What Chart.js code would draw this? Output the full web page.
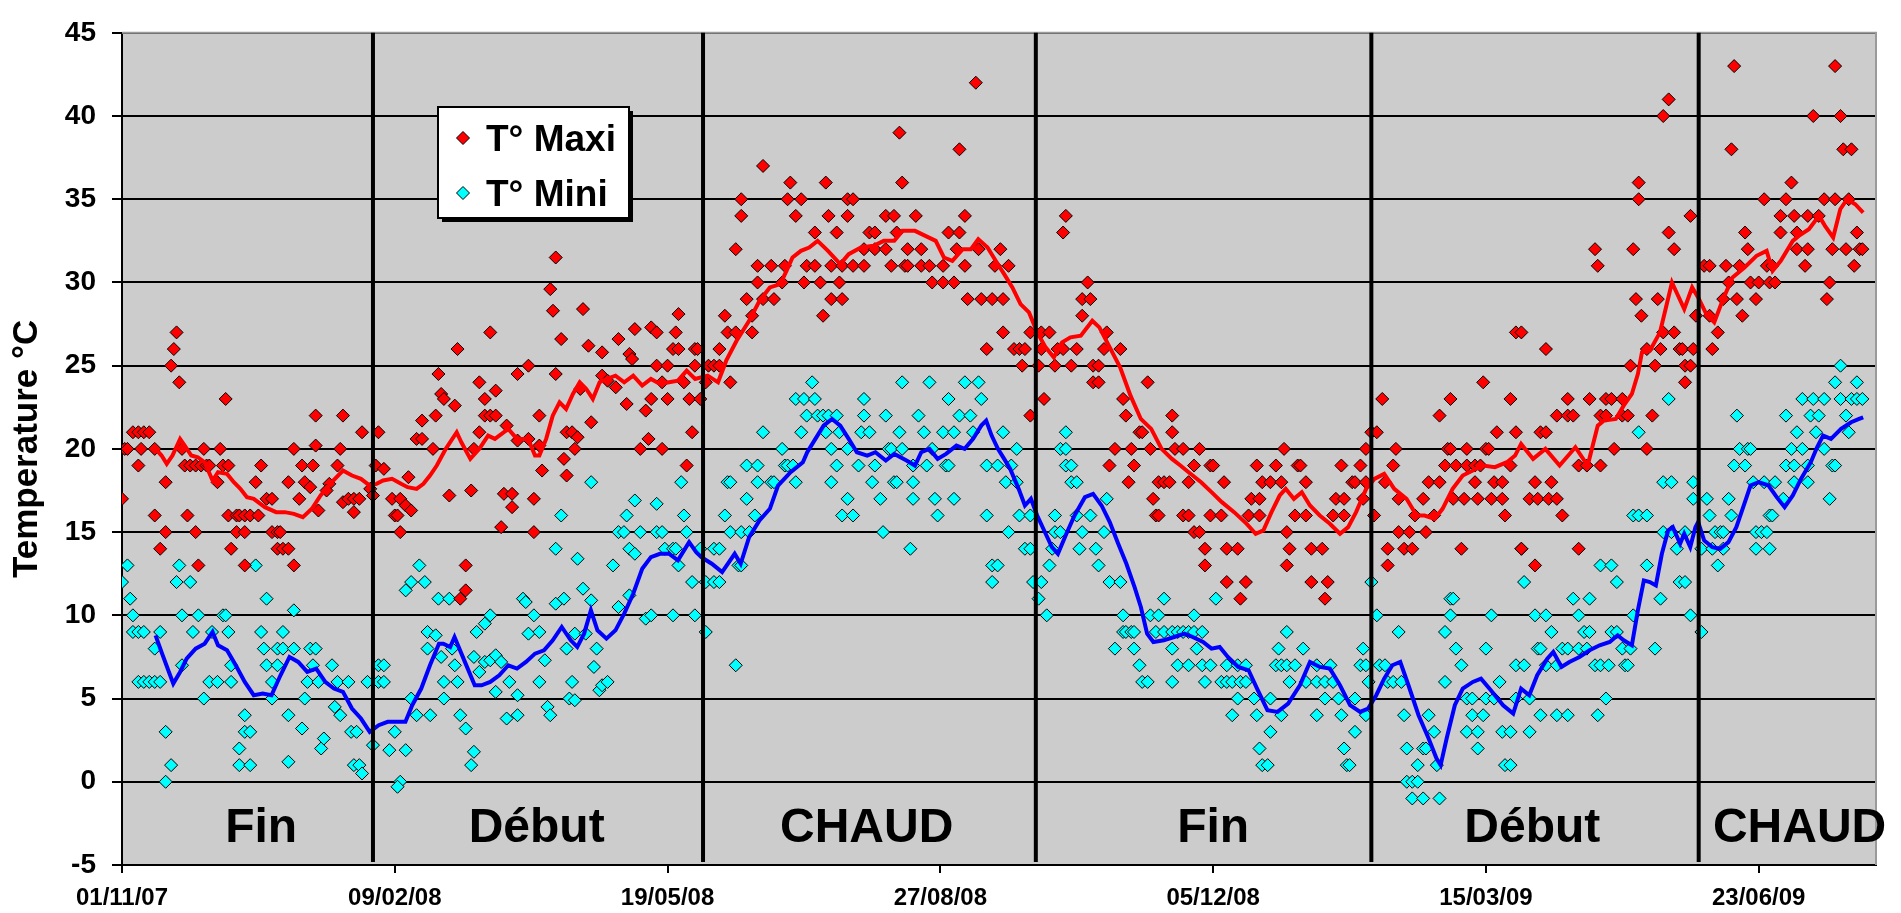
<!DOCTYPE html>
<html>
<head>
<meta charset="utf-8">
<script src="https://cdn.jsdelivr.net/npm/chart.js@4.4.0/dist/chart.umd.min.js"></script>
<style>
html, body { margin: 0; padding: 0; background: #fff; }
#wrap { width: 1901px; height: 913px; }
</style>
</head>
<body>
<div id="wrap"><canvas id="tempChart"></canvas></div>
<script>
// x values are days counted from 01/11/07
const tickLabels = ['01/11/07', '09/02/08', '19/05/08', '27/08/08', '05/12/08', '15/03/09', '23/06/09'];
const seasonBounds = [92, 213, 335, 458, 578];
const seasonNames = ['Fin', 'Début', 'CHAUD', 'Fin', 'Début', 'CHAUD'];
const seasonCentres = [51, 152, 273, 400, 517, 615];

// T° Maxi daily readings [day, °C]
const maxiPoints = [
  [0,17],[1,20],[2,20],[4,21],[6,21],[8,21],[10,21],[7,20],[12,20],[6,19],[12,16],[14,14],[16,15],[16,18],[18,25],[19,26],[20,27],[21,24],[22,20],[23,19],[25,19],[27,19],[29,19],[31,19],[32,19],[24,16],[27,15],[28,13],[30,20],[35,18],[36,20],[37,19],[39,19],[38,23],[39,16],[42,16],[43,16],[45,16],[47,16],[50,16],[40,14],[42,15],[45,15],[45,13],[49,18],[51,19],[53,17],[55,17],[55,15],[57,15],[58,15],[57,14],[59,14],[61,14],[61,18],[63,13],[63,20],[65,17],[66,19],[70,19],[67,18],[69,17.7],[71,22],[71,20.2],[72,16.3],[76,17.9],[75,17.5],[79,19],[80,20],[81,22],[81,16.8],[83,17],[85,17],[87,17],[85,16.2],[88,21],[91,17.6],[92,17.2],[93,19],[94,21],[96,18.8],[99,17],[100,16],[101,16],[102,17],[102,15],[104,16.6],[106,16.3],[105,18.3],
  [108,20.6],[110,20.6],[110,21.7],[114,20],[115,22],[116,24.5],[117,23.3],[118,23],[120,17.2],[122,22.6],[123,26],[124,11],[126,11.5],[126,13],[128,17.5],[129,20],[131,21],[131,24],[133,22],[135,22],[137,22],[133,23],[135,27],[137,23.5],[139,15.3],[140,17.3],[141,21.4],[143,17.3],[143,16.5],[145,24.5],[145,20.5],[149,20.6],[149,25],[151,17],[151,15],[153,22],[153,20.2],[154,18.7],[157,29.6],[158,28.3],[159,31.5],[159,24.5],[161,26.6],[162,19.4],[163,18.4],[163,21],[165,21],[167,20.7],[166,20],[169,28.4],[171,26.2],[172,21.6],[168,23.6],[176,25.8],[176,24.4],[178,24.1],[181,23.7],[182,26.6],[185,22.7],[186,25.7],[187,25.4],[188,27.2],[190,20],[192,22.3],[193,20.6],[194,27.3],[196,27],[196,25],[194,23],[198,20],[198,24],[200,25],[200,23],[203,27],[204,28.1],[202,26],[204,26],[206,24],[207,19],[208,23],[209,21],[210,26],[210,25],
  [211,26],[212,23],[214,24],[215,25],[217,25],[219,25],[219,26],[221,28],[222,27],[223,24],[225,27],[225,32],[227,34],[227,35],[229,29],[231,28],[231,27],[233,31],[233,30],[235,37],[235,29],[238,31],[239,29],[242,30],[243,31],[244,35],[245,36],[247,34],[249,35],[250,30],[251,31],[254,33],[254,31],[256,30],[257,28],[258,36],[259,34],[260,29],[260,31],[262,33],[263,30],[264,29],[264,31],[266,34],[266,35],[268,35],[268,31],[272,31],[272,32],[274,33],[276,32],[276,33],[280,32],[280,34],[282,31],[283,34],[284,33],[285,39],[286,36],[287,31],[288,31],[288,32],[291,34],[293,31],[293,32],[296,31],[297,30],[301,30],[301,31],[303,33],[305,30],[306,32],[307,33],[307,38],[309,31],[309,34],[310,29],[313,42],[314,32],[315,29],[317,26],[319,29],[320,31],[322,32],[323,27],[323,29],[325,31],[327,26],[329,26],[330,25],[331,26],[333,27],[333,22],[336,25],[337,27],[337,26],[338,23],[340,27],[342,25],[343,26],[345,33],[345,26],[346,34],[348,25],[350,26],[352,28],[352,29],[354,30],[355,29],[356,25],[356,24],[358,25],[358,24],[360,26],[361,27],[362,19],[364,20],[366,26],[367,23],[368,22],[369,18],[370,20],[371,19],[373,21],[374,21],[376,24],[377,20],[378,17],[379,16],[380,16],[380,18],[382,18],[384,18],[385,22],[385,21],[386,20],[389,20],[389,16],[391,16],[391,18],[393,15],[393,19],[395,20],[395,15],[397,13],[397,14],[399,16],[399,19],[400,19],[403,16],[404,18],[405,14],[405,12],[409,14],[410,11],[412,12],[413,16],[414,17],[416,19],[417,16],[417,17],[418,18],[421,18],
  [423,19],[425,18],[426,20],[427,15],[427,13],[428,14],[430,16],[431,19],[432,19],[434,18],[434,16],[436,14],[436,12],[440,14],[441,11],[442,12],[444,16],[445,17],[447,19],[448,17],[448,16],[451,18],[452,18],[454,19],[455,17],[456,18],[456,20],[458,21],[459,16],[460,21],[462,23],[463,18],[464,14],[464,13],[466,19],[467,20],[468,17],[468,15],[470,14],[472,15],[473,14],[474,16],[477,17],[478,15],[479,18],[481,16],[483,18],[483,22],[485,19],[486,20],[487,20],[487,23],[488,17],[489,19],[491,14],[492,17],[493,19],[493,20],[496,19],[496,18],[497,17],[498,19],[499,24],[500,20],[501,20],[502,17],[503,18],[504,21],[506,18],[506,17],[507,16],[509,19],[509,23],[511,21],[511,27],[513,27],[513,14],[516,17],[518,18],[518,13],[519,17],[520,21],[522,21],[522,26],[523,17],[524,18],[526,17],[526,22],[528,16],[530,23],[530,22],[532,22],[534,19],[534,14],[537,19],[538,23],[540,32],[541,31],[542,22],[542,19],[544,23],[544,22],[546,23],[547,20],[550,22],[550,23],[552,22],[553,25],[554,32],[555,29],[556,35],[556,36],[557,28],[559,26],[559,20],[561,22],[562,25],[563,29],[564,26],[565,27],[565,40],[567,41],[567,33],[569,32],[569,27],[571,26],[572,26],[573,25],[573,24],[575,25],[575,34],[576,26],[577,28],[580,31],[582,28],[582,31],[583,26],[585,27],[587,29],[588,31],[589,30],[590,38],[591,43],[592,29],[593,31],[594,28],[595,33],[596,32],[597,30],[599,29],[600,30],[602,35],[603,31],[604,30],[605,31],[606,30],[608,34],[608,33],[610,35],[612,36],[613,34],[614,33],[614,32],[617,31],[618,32],[618,34],[620,40],[622,34],[624,35],[625,29],[626,30],[627,32],[628,35],[628,43],[630,40],[631,38],[632,32],[633,35],[634,38],[635,31],[636,33],[637,32],[638,32]
];

// T° Mini daily readings [day, °C]
const miniPoints = [
  [0,12],[2,13],[3,11],[4,10],[4,9],[6,9],[8,9],[6,6],[8,6],[10,6],[12,6],[14,6],[12,8],[14,9],[16,3],[18,1],[16,0],[21,13],[20,12],[25,12],[22,10],[28,10],[22,7],[26,9],[30,5],[32,6],[35,6],[33,9],[39,9],[37,10],[38,10],[40,7],[40,6],[43,2],[43,1],[47,1],[45,4],[45,3],[47,3],[49,13],[51,9],[52,8],[53,7],[53,11],[55,5],[55,6],[57,7],[59,9],[57,8],[59,8],[63,8],[61,4],[61,1.2],[63,10.3],[66,3.2],[67,5],[68,6],[72,6],[70,7],[69,8],[71,8],[73,2],[74,2.6],[77,7],[79,6],[83,6],[78,4.5],[80,4],[84,3],[86,3],[85,1],[87,1],[88,0.5],[90,6],[92,2.2],[94,7],[96,7],[94,6],[96,6],[98,1.9],[100,3],[102,0],[101,-0.3],[104,1.9],[104,11.5],[106,12],[109,13],[111,12],[106,5],[108,4],[112,9],[115,8.8],[112,8],[113,4],[116,11],[120,11],[117,7.5],[118,6],[123,6],[118,5],[121,8],[122,7],[124,4],[126,3.2],[129,1.8],[128,1],[129,7.5],[131,6.6],[130,9],[133,9.5],[135,10],[133,7.2],[135,7.3],[137,7.6],[139,7.2],[137,5.4],[141,3.8],[142,6],[145,5.2],[145,4],[147,11],[148,10.8],[151,10],[149,8.9],[153,9],[153,6],[155,7.3],[156,4.5],[157,4],[159,14],[161,16],[159,10.7],[162,11],[163,8],[164,5],[166,4.9],[165,6],[167,13.4],[169,11.6],[172,18],[172,10.9],[166,8.9],[170,8.9],[174,8],[173,6.9],[175,5.5],[176,5.8],[178,6],[180,13],[182,10.5],[182,15],[184,15],[185,16],[186,14],[188,13.7],[186,11.2],[188,16.9],[190,15],[192,9.8],[194,10],[196,15],[198,15],[196,16.7],[199,14],[202,14],[203,14],[202,10],[204,13],[205,18],[206,16],[207,15],[209,12],[210,10],
  [212,14],[214,9],[214,12],[217,12],[219,12],[217,14],[219,14],[225,7],[226,13],[227,13],[221,16],[223,15],[227,15],[230,15],[222,18],[223,18],[229,17],[232,16],[229,19],[233,19],[233,18],[238,18],[239,18],[247,18],[243,19],[244,19],[246,19],[260,18],[275,18],[283,18],[284,18],[290,18],[262,19],[270,19],[276,19],[290,19],[295,19],[302,19],[303,19],[317,19],[321,19],[326,19],[266,17],[278,17],[290,17],[298,17],[305,17],[264,16],[268,16],[299,16],[317,16],[329,16],[333,16],[279,15],[325,15],[289,14],[331,14],[333,14],[319,13],[321,13],[319,12],[324,18],[328,18],
  [253,24],[286,24],[296,24],[309,24],[314,24],[247,23],[250,23],[254,23],[272,23],[303,23],[315,23],[251,22],[255,22],[257,22],[259,22],[262,22],[272,22],[280,22],[292,22],[307,22],[311,22],[235,21],[249,21],[258,21],[263,21],[271,21],[274,21],[285,21],[294,21],[301,21],[305,21],[312,21],[323,21],[346,21],[242,20],[260,20],[266,20],[281,20],[282,20],[286,20],[297,20],[328,20],[344,20],[346,20],
  [334,12],[337,12],[336,11],[339,10],[340,13],[342,15],[344,15],[342,16],[341,14],[346,19],[348,19],[348,18],[350,18],[352,15],[351,14],[357,14],[350,16],[355,16],[358,13],[360,15],[361,17],[362,12],[366,12],[367,10],[367,9],[368,9],[370,9],[371,9],[364,8],[371,8],[373,7],[374,6],[376,6],[377,10],[380,10],[382,11],[379,9],[382,9],[385,9],[387,9],[389,9],[391,9],[393,9],[396,9],[385,8],[385,6],[387,7],[391,7],[393,10],[394,8],[397,6],[396,7],[399,7],[401,11],[403,6],[405,6],[407,6],[410,6],[412,6],[405,7],[409,7],[412,7],[407,4],[409,5],[415,5],[416,4],[417,2],[418,1],[420,1],
  [458,12],[460,10],[468,9],[427,9],[424,8],[433,8],[455,8],[423,7],[425,7],[427,7],[430,7],[438,7],[443,7],[454,7],[456,7],[461,7],[463,7],[428,6],[434,6],[438,6],[441,6],[444,6],[457,6],[464,6],[466,6],[469,6],[421,5],[441,5],[446,5],[452,5],[425,4],[438,4],[447,4],[456,4],[421,3],[452,3],[448,2],[449,1],[450,1],[470,4],[479,4],[471,2],[477,2],[478,2],[475,1],[482,1],[471,0],[473,0],[475,0],[473,-1],[477,-1],[483,-1],[481,3],[485,6],[485,9],[487,11],[488,11],[487,10],[489,8],[491,7],[493,5],[495,5],[493,3],[497,3],[495,4],[499,4],[497,2],[500,8],[502,10],[500,5],[503,5],[505,6],[506,3],[509,3],[507,1],[509,1],[511,5],[516,5],[511,7],[514,7],[516,3],[513,14],[514,12],[518,10],[522,10],[519,8],[520,8],[520,4],[526,4],[530,4],[524,9],[522,7],[526,7],[528,8],[530,8],[534,8],[537,8],[532,11],[538,11],[534,10],[536,9],[538,9],[540,7],[542,7],[545,7],[541,4],[544,5],[542,13],[546,13],[548,12],[546,9],[548,9],[550,8],[553,8],[551,7],[552,7],[554,10],[554,16],[556,16],[559,16],[559,13],[562,8],[564,11],[565,15],[568,15],[570,14],[571,12],[573,12],[573,15],[565,18],[568,18],[575,10],[576,17],[576,18],[579,9],[579,14],[583,14],[587,14],[581,17],[582,16],[584,15],[586,15],[587,15],[585,13],[589,17],[590,16],[591,19],[595,19],[598,18],[602,18],[606,18],[599,15],[601,15],[603,15],[599,14],[604,14],[604,16],[605,16],[609,17],[610,19],[613,19],[618,19],[613,18],[618,18],[626,17],[627,19],[628,19],
  [630,25],[628,24],[636,24],[567,23],[616,23],[620,23],[624,23],[630,23],[634,23],[636,23],[638,23],[592,22],[610,22],[619,22],[622,22],[632,22],[556,21],[614,21],[621,21],[633,21],[593,20],[596,20],[597,20],[612,20],[616,20],[624,20]
];

// smoothed curves [day, °C]
const maxiAvg = [
  [12.3,20],[14.5,19.6],[16.4,19.1],[18.5,19.6],[21.3,20.6],[23,20.2],[25.4,19.6],[27.8,19.5],[30.3,19.2],[33.2,18.1],[35.2,18.6],[38.5,18.5],[41,18],[43.4,17.6],[45.8,17.1],[48.3,17],[52.4,16.5],[56.5,16.2],[59.7,16.2],[63,16.1],[66.3,15.9],[69.6,16.4],[72.8,17.2],[76.9,18],[81,18.7],[84.3,18.4],[87.6,18.2],[90.8,17.8],[93.3,17.9],[95.7,18.1],[99,18.2],[102.3,17.9],[104.7,17.7],[108,17.6],[110.5,17.9],[112.9,18.4],[115.4,19],[118.7,20],[122.7,21],[124.4,20.4],[127.7,19.4],[131,20],[134.2,20.8],[136.7,20.6],[141.6,21.2],[144.8,20.6],[148.9,20.6],[151.4,19.6],[153,19.6],[155.5,20.6],[157.9,22],[160.4,22.8],[162.8,22.4],[165.3,23.3],[167.8,24],[170.2,23.6],[172.6,23],[175.1,24],[177.6,24.2],[180.9,24.4],[184.1,24],[187.4,24.4],[190.7,23.8],[193.9,24.2],[197.2,23.9],[200.5,24],[203.8,24.1],[207,24.7],[210.1,24.2],[214.7,24.4],[218.5,24],[221.5,25.3],[225.3,26.5],[229.9,27.7],[233.7,28.9],[237.5,29.7],[241.3,29.9],[243.6,30.7],[245.8,31.5],[248.9,31.9],[251.9,32.1],[255,32.5],[258.8,31.9],[263.3,31.1],[266.4,31.7],[270.9,32.1],[275.5,32.2],[279.3,32.5],[283.1,32.5],[286.1,33.1],[290.7,33.1],[294.5,32.8],[298.3,32.5],[301.3,31.5],[304.4,31.3],[308.2,32],[311.2,32],[313.9,32.6],[317.3,32.1],[320.3,31.3],[323.4,30.5],[326.4,29.7],[329.4,28.7],[332.5,28.2],[335.5,27],[338.6,26.1],[341.6,25.5],[344.6,26.4],[347.7,26.7],[351.5,26.8],[355.7,27.7],[358.3,27.3],[362.1,26.1],[365.9,24.9],[369.7,23.2],[373.5,21.8],[377.3,21.2],[381.1,20],[384.9,19.4],[388,19],[391,18.6],[395.6,18],[399.4,17.4],[403.2,16.8],[407.7,16.2],[412.3,15.5],[415.6,14.9],[418.4,15.1],[421.4,16.2],[424.4,17.2],[426.6,17.6],[429.6,17],[432.5,17.4],[435.5,16.6],[439.1,16],[442.8,15.5],[446.5,14.9],[449.5,15.3],[452.4,16.2],[456.1,17.6],[459.1,18.2],[462.7,18.5],[466.4,17.6],[470.9,17],[474.6,16],[477.5,16],[481.2,15.8],[484.1,16.4],[487.8,17.6],[491.5,18.4],[495.2,18.7],[498.9,19],[503.3,18.9],[507.7,19.2],[510.7,19.6],[512.9,20.3],[517.3,19.4],[521.8,20],[527,19],[532.8,20.1],[537.3,19],[541,21.4],[543.2,21.7],[547.6,21.8],[550.5,22.6],[553.5,23.3],[555.7,24.5],[557.2,25.8],[560.1,25.9],[563.8,27],[566,28.5],[568.2,30],[572.7,28.4],[575.6,29.7],[577.8,29.1],[580.8,28.1],[583.7,27.6],[586.7,28.9],[590.4,30.3],[594.8,30.9],[599.2,31.6],[602.9,31.9],[605.1,30.7],[608.1,31.3],[612.5,32.5],[614.7,32.8],[618.4,33.2],[622.1,34],[624.3,33.4],[627.3,32.7],[629.9,34.4],[632.4,35],[635.4,34.7],[638.3,34.2]
];

const miniAvg = [
  [12.3,8.8],[14.7,7.7],[17.2,6.6],[18.8,5.9],[21.3,6.6],[23.7,7.4],[27,8],[30.3,8.3],[33.2,9],[35.2,8.2],[38.5,7.9],[41.7,7],[45,6],[48.3,5.2],[51.6,5.3],[54.8,5.2],[58.1,6.4],[61.4,7.5],[64.6,7.2],[67.9,6.6],[71.2,6.8],[74.5,6],[77.7,5.6],[81,5.4],[84.3,4.4],[87.6,3.8],[90.8,3],[94.1,3.4],[97.4,3.6],[100.7,3.6],[103.9,3.6],[106.4,4.6],[109.7,5.6],[112.9,7],[116.2,8.3],[117.8,8.3],[120.3,8.1],[121.9,8.7],[125.2,7.4],[129.3,5.8],[131.8,5.8],[135,6],[138.3,6.4],[141.6,7],[144.8,6.8],[148.1,7.2],[151.4,7.7],[154.7,7.9],[157.9,8.5],[161.2,9.3],[164.5,8.5],[166.9,8.1],[169.4,8.9],[171.9,10.3],[174.3,9.1],[177.6,8.6],[180.9,9.1],[184.1,10.1],[187.4,11.3],[190.7,12.8],[193.9,13.5],[197.2,13.7],[200.5,13.7],[203.8,13.3],[207.9,14.4],[210.5,13.8],[212.4,13.5],[216.2,13.1],[220,12.6],[224.6,13.7],[226.8,13.1],[229.9,14.7],[233.7,15.7],[237.5,16.4],[240.5,17.8],[245.1,18.6],[249.6,19.2],[251.2,19.8],[254.2,20.6],[257.2,21.4],[260.3,21.8],[263.3,21.4],[266.4,20.6],[269.4,19.8],[273.2,19.6],[276.2,19.8],[280,19.3],[283.1,19.7],[287.6,19.3],[290.7,19],[293,19.8],[296,20],[299,19.4],[302.1,19.7],[305.9,20.2],[308.9,20],[312,20.6],[315,21.4],[316.8,21.7],[318.8,20.8],[321.1,20],[323.4,19.4],[325.6,18.8],[328.7,17.6],[331,16.6],[333.2,17],[335.5,16],[338.6,14.9],[340.9,14.1],[343.1,13.7],[346.2,14.9],[349.2,16],[353,17.1],[356,17.3],[359.1,16.6],[362.1,15.6],[365.2,14.3],[368.2,13.1],[371.2,11.7],[373.5,10.5],[375.8,8.9],[378.1,8.4],[381.9,8.5],[385.7,8.7],[389.5,8.9],[392.5,8.7],[396.3,8.4],[399.4,8],[402.4,8.1],[405.4,7.5],[409.2,6.9],[413,6.7],[416.1,5.6],[419.9,4.3],[423.6,4.2],[427.5,4.7],[431.8,5.8],[435.5,7.2],[439.1,6.9],[442.8,6.8],[446.5,5.8],[450.2,4.6],[453.9,4.2],[456.8,4.4],[459.8,5.2],[462.7,6.2],[465.7,7],[468.6,7.2],[471.6,5.8],[475.3,4],[479,2.6],[481.9,1.4],[483.4,1],[485.6,2.6],[488.6,4.6],[491.5,5.6],[495.2,6],[498.2,6.2],[501.8,5.5],[506.3,4.6],[510,4.1],[512.9,5.6],[515.9,5.2],[518.8,6.4],[522.5,7.4],[524.7,7.8],[527.7,6.9],[530.6,7.2],[534.3,7.5],[538,7.9],[541.7,8.2],[545.4,8.4],[548.3,8.8],[550.5,8.5],[553.5,8.2],[555.7,10.3],[557.9,12.1],[560.1,12],[562.3,11.8],[564.5,13.7],[566.8,15.1],[568.5,15.3],[571.2,14.3],[572.7,14.9],[574.9,14.1],[576.8,15.3],[577.8,15.6],[580,14.5],[583,14.1],[585.9,14],[588.9,14.4],[591.8,15.3],[594.1,16.4],[597,17.8],[600,18],[603.6,17.8],[606.6,17.1],[609.5,16.5],[612.5,17.2],[615.5,18.2],[619.1,19.2],[621.4,20.1],[623.6,20.8],[626.5,20.6],[630.2,21.2],[633.9,21.6],[636.8,21.8],[638.3,21.9]
];

const FONT = '"Liberation Sans", Arial, sans-serif';
Chart.defaults.font.family = FONT;
Chart.defaults.color = '#000';

const toXY = arr => arr.map(p => ({ x: p[0], y: p[1] }));

// grey plot area + grey top/right frame
const plotArea = {
    id: 'plotArea',
    beforeDraw(chart) {
        const { ctx, chartArea: a } = chart;
        ctx.save();
        ctx.fillStyle = '#cccccc';
        ctx.fillRect(a.left, a.top, a.right - a.left, a.bottom - a.top);
        ctx.restore();
    },
    beforeDatasetsDraw(chart) {
        const { ctx, chartArea: a } = chart;
        ctx.save();
        ctx.strokeStyle = '#9a9a9a';
        ctx.lineWidth = 2;
        ctx.beginPath();
        ctx.moveTo(a.left, a.top);
        ctx.lineTo(a.right, a.top);
        ctx.lineTo(a.right, a.bottom);
        ctx.stroke();
        ctx.restore();
    }
};

// season separators and names
const seasons = {
    id: 'seasons',
    afterDatasetsDraw(chart) {
        const { ctx, chartArea: a, scales: { x, y } } = chart;
        ctx.save();
        ctx.strokeStyle = '#000';
        ctx.lineWidth = 4;
        seasonBounds.forEach(d => {
            const px = x.getPixelForValue(d);
            ctx.beginPath();
            ctx.moveTo(px, a.top);
            ctx.lineTo(px, a.bottom - 3);
            ctx.stroke();
        });
        ctx.fillStyle = '#000';
        ctx.font = 'bold 48px ' + FONT;
        ctx.textAlign = 'center';
        ctx.textBaseline = 'alphabetic';
        seasonNames.forEach((name, i) => {
            ctx.fillText(name, x.getPixelForValue(seasonCentres[i]), y.getPixelForValue(-3.6));
        });
        ctx.restore();
    }
};

// boxed legend inside the plot
const boxLegend = {
    id: 'boxLegend',
    afterDraw(chart) {
        const ctx = chart.ctx;
        const items = chart.data.datasets.filter(ds => ds.type === 'scatter');
        const bx = 438, by = 107, bw = 191, bh = 111;
        ctx.save();
        ctx.fillStyle = '#000';
        ctx.fillRect(bx + 4, by + 4, bw, bh);
        ctx.fillStyle = '#fff';
        ctx.fillRect(bx, by, bw, bh);
        ctx.strokeStyle = '#000';
        ctx.lineWidth = 2;
        ctx.strokeRect(bx, by, bw, bh);
        ctx.font = 'bold 37px ' + FONT;
        ctx.textBaseline = 'alphabetic';
        ctx.textAlign = 'left';
        items.forEach((ds, i) => {
            const cx = bx + 25, cy = by + 31 + i * 55, r = 6.5;
            ctx.beginPath();
            ctx.moveTo(cx, cy - r);
            ctx.lineTo(cx + r, cy);
            ctx.lineTo(cx, cy + r);
            ctx.lineTo(cx - r, cy);
            ctx.closePath();
            ctx.fillStyle = ds.backgroundColor;
            ctx.fill();
            ctx.lineWidth = 1;
            ctx.strokeStyle = '#000';
            ctx.stroke();
            ctx.fillStyle = '#000';
            ctx.fillText(ds.label, bx + 48, cy + 13);
        });
        ctx.restore();
    }
};

const ctx = document.getElementById('tempChart').getContext('2d');
new Chart(ctx, {
    type: 'scatter',
    data: {
        datasets: [{
            type: 'line',
            label: 'Maxi moyenne',
            data: toXY(maxiAvg),
            borderColor: '#ff0000',
            borderWidth: 4,
            pointRadius: 0,
            fill: false,
            tension: 0,
            order: 0
        }, {
            type: 'line',
            label: 'Mini moyenne',
            data: toXY(miniAvg),
            borderColor: '#0000ff',
            borderWidth: 4,
            pointRadius: 0,
            fill: false,
            tension: 0,
            order: 0
        }, {
            type: 'scatter',
            label: 'T° Maxi',
            data: toXY(maxiPoints),
            pointStyle: 'rectRot',
            pointRadius: 6.5,
            backgroundColor: '#ff0000',
            borderColor: '#000',
            borderWidth: 1,
            order: 1
        }, {
            type: 'scatter',
            label: 'T° Mini',
            data: toXY(miniPoints),
            pointStyle: 'rectRot',
            pointRadius: 6.5,
            backgroundColor: '#00ffff',
            borderColor: '#000',
            borderWidth: 1,
            order: 1
        }]
    },
    options: {
        responsive: true,
        maintainAspectRatio: false,
        devicePixelRatio: 1,
        animation: false,
        layout: { padding: { top: 22, right: 25, left: 0, bottom: 0 } },
        plugins: {
            legend: { display: false },
            tooltip: { enabled: false }
        },
        scales: {
            x: {
                type: 'linear',
                min: 0,
                max: 643,
                afterBuildTicks: scale => {
                    scale.ticks = scale.ticks.filter(t => t.value % 100 === 0);
                },
                afterFit: scale => { scale.height = 48; },
                ticks: {
                    stepSize: 100,
                    autoSkip: false,
                    maxRotation: 0,
                    padding: 11,
                    color: '#000',
                    font: { size: 24, weight: 'bold' },
                    callback: v => tickLabels[v / 100]
                },
                grid: {
                    drawOnChartArea: false,
                    color: '#000',
                    lineWidth: 2,
                    tickLength: 8
                },
                border: { color: '#000', width: 2 }
            },
            y: {
                min: -5,
                max: 45,
                afterFit: scale => { scale.width = 122; },
                ticks: {
                    stepSize: 5,
                    padding: 16,
                    color: '#000',
                    font: { size: 28, weight: 'bold' }
                },
                grid: {
                    color: '#000',
                    lineWidth: 2,
                    tickLength: 10
                },
                border: { color: '#000', width: 2 },
                title: {
                    display: true,
                    text: 'Temperature °C',
                    color: '#000',
                    font: { size: 35, weight: 'bold' },
                    padding: { top: 6, bottom: 0 }
                }
            }
        }
    },
    plugins: [plotArea, seasons, boxLegend]
});
</script>
</body>
</html>
